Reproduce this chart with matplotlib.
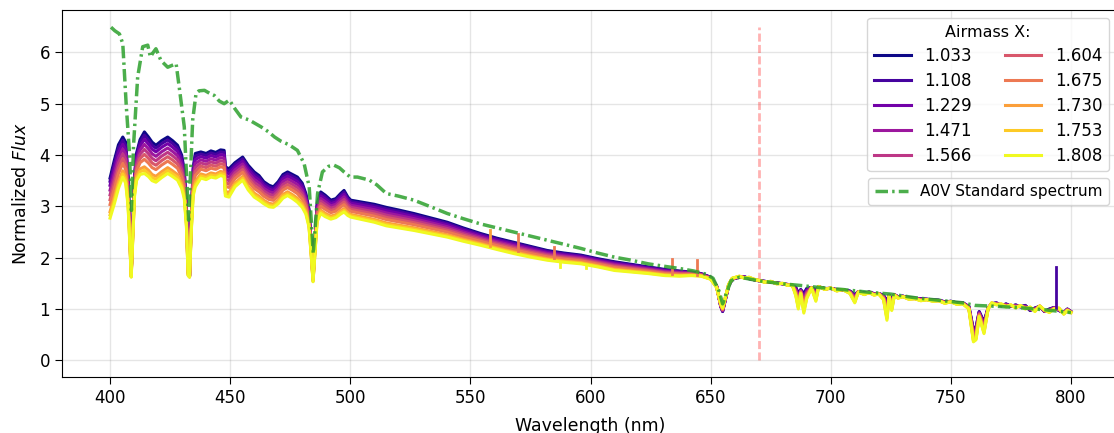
import numpy as np
import matplotlib
matplotlib.use("Agg")
import matplotlib.pyplot as plt

# ---------------- data ----------------
airmass = [1.033, 1.108, 1.229, 1.471, 1.566, 1.604, 1.675, 1.730, 1.753, 1.808]
# relative position of each airmass spectrum between the X=1.033 and X=1.808 spectra
stack_pos = [0.0, 0.08, 0.18, 0.30, 0.42, 0.54, 0.66, 0.84, 0.92, 1.0]

wl = [400, 401.8, 403.5, 405.3, 406.5, 407.5, 408.3, 408.8, 409.4, 410.2, 411.0, 412.5,
      414.3, 416.0, 417.5, 419.1, 421.5, 424.0, 426.0, 428.1, 429.8, 430.9, 431.8, 432.5,
      433.1, 433.8, 434.6, 435.5, 437.8, 440, 442, 444, 446, 447.5, 448.0, 449.5, 452,
      455.2, 457.5, 460, 462, 464, 466.2, 468, 470, 472, 473.9, 476, 478, 480, 481.5,
      482.8, 483.8, 484.5, 485.2, 486.2, 487.7, 489.5, 491.9, 494, 496, 497.4, 499, 500.2,
      505, 510, 515, 520, 526.5, 533, 540.4, 547, 554.3, 561, 568, 575, 582, 589, 596,
      603, 610, 617, 624, 631, 637, 642, 646, 650, 652.5, 654.2, 655.0, 656.0, 657.5, 659,
      662, 664, 666, 668, 670, 672.5, 675, 677.5, 680, 682, 684, 685.5, 686.5, 687.5,
      688.8, 690, 692, 693.8, 695, 697.5, 700, 702.5, 705, 708, 710, 711.5, 714, 716,
      718, 720, 722, 723.4, 724.3, 725.4, 726.5, 728, 730, 732.5, 735, 737.5, 740, 742.5,
      745, 747.5, 750, 752.5, 755, 757.5, 759.4, 760.5, 761.8, 763.8, 765.5, 767, 769,
      771, 773, 775, 777, 779, 781, 783, 785, 787, 789, 791, 793, 795, 797, 798.5, 800]

flux_x1033 = [3.55, 3.90, 4.20, 4.35, 4.25, 3.60, 2.50, 1.70, 2.50, 3.60, 4.03, 4.30,
              4.45, 4.35, 4.25, 4.19, 4.28, 4.35, 4.28, 4.19, 4.00, 3.70, 3.00, 1.75,
              1.65, 2.80, 3.75, 4.03, 4.06, 4.03, 4.08, 4.05, 4.10, 4.09, 3.77, 3.73, 3.85,
              3.96, 3.80, 3.67, 3.60, 3.48, 3.41, 3.38, 3.48, 3.62, 3.67, 3.62, 3.57, 3.45, 3.25,
              2.95, 2.20, 1.62, 2.20, 3.05, 3.28, 3.22, 3.12, 3.15, 3.25, 3.31, 3.18, 3.12,
              3.08, 3.04, 2.98, 2.93, 2.86, 2.78, 2.69, 2.58, 2.47, 2.38, 2.30, 2.22, 2.14, 2.09, 2.05,
              1.98, 1.92, 1.87, 1.82, 1.77, 1.74, 1.72, 1.69, 1.62, 1.45, 1.05, 0.95, 1.15, 1.45, 1.58,
              1.62, 1.63, 1.59, 1.57, 1.55, 1.54, 1.52, 1.51, 1.49, 1.48, 1.46, 1.42, 1.30, 1.38,
              1.30, 1.40, 1.42, 1.38, 1.43, 1.40, 1.40, 1.38, 1.37, 1.35, 1.28, 1.34, 1.31, 1.33,
              1.30, 1.30, 1.27, 1.15, 1.27, 1.18, 1.28, 1.24, 1.25, 1.22, 1.21, 1.20, 1.19, 1.18,
              1.17, 1.14, 1.15, 1.12, 1.12, 1.05, 0.60, 0.65, 0.95, 0.75, 1.02, 1.10, 1.12,
              1.06, 1.10, 1.05, 1.08, 1.04, 1.07, 0.97, 1.02, 1.05, 0.95, 1.00, 1.03, 0.97, 0.93, 1.00, 0.95]

flux_x1808 = [2.77, 3.05, 3.35, 3.57, 3.45, 3.00, 2.20, 1.62, 2.30, 3.20, 3.50, 3.62,
              3.64, 3.58, 3.50, 3.47, 3.56, 3.64, 3.58, 3.51, 3.35, 3.15, 2.60, 1.65,
              1.62, 2.50, 3.20, 3.38, 3.55, 3.52, 3.57, 3.55, 3.60, 3.58, 3.20, 3.18, 3.38,
              3.51, 3.32, 3.18, 3.12, 3.05, 2.99, 2.98, 3.05, 3.16, 3.21, 3.15, 3.08, 2.98, 2.85,
              2.60, 2.00, 1.53, 2.00, 2.70, 2.86, 2.80, 2.75, 2.78, 2.85, 2.89, 2.82, 2.79,
              2.74, 2.69, 2.62, 2.58, 2.53, 2.47, 2.40, 2.32, 2.24, 2.16, 2.08, 2.01, 1.95, 1.91, 1.88,
              1.82, 1.75, 1.72, 1.69, 1.65, 1.64, 1.65, 1.64, 1.58, 1.42, 1.10, 1.02, 1.20, 1.48, 1.60,
              1.64, 1.60, 1.62, 1.58, 1.56, 1.52, 1.54, 1.49, 1.50, 1.46, 1.47, 1.25, 1.00, 1.30,
              0.92, 1.20, 1.41, 1.15, 1.44, 1.38, 1.41, 1.35, 1.38, 1.30, 1.12, 1.33, 1.28, 1.32,
              1.27, 1.29, 1.18, 0.78, 1.25, 0.97, 1.27, 1.21, 1.24, 1.19, 1.20, 1.16, 1.18, 1.15,
              1.16, 1.11, 1.14, 1.09, 1.10, 1.00, 0.36, 0.40, 0.85, 0.52, 1.00, 1.12, 1.08,
              1.10, 1.04, 1.08, 1.02, 1.07, 1.00, 1.04, 0.95, 1.06, 0.98, 0.93, 1.00, 1.02, 0.90, 0.97, 0.93]

# isolated single-pixel features: (series index, wavelength, flux reached)
spike_series = [7, 6, 6, 9, 9, 6, 6, 1]
spike_wl = [558.0, 569.8, 584.8, 587.5, 598.3, 634.0, 644.3, 793.6]
spike_flux = [2.53, 2.47, 2.20, 1.82, 1.79, 1.98, 1.96, 1.82]

a0v_wl = [400.4, 402, 403.9, 405.3, 406.7, 408.1, 408.9, 409.8, 411.5, 413.6, 415.7, 416.8,
          418, 419.1, 421.2, 424, 426, 427.5, 428.8, 430.9, 432.7, 434.4, 435.8, 437, 439.3,
          441.5, 443.4, 445.5, 447.5, 449.7, 452, 454.5, 458, 462.8, 466, 468.5, 471.1, 474.5,
          478, 480.8, 482.9, 484.6, 486.4, 488.4, 491, 493.3, 495.5, 497.4, 500, 503, 508,
          511, 515, 520, 526.5, 533, 540.4, 547, 554, 561, 568, 575, 582, 589, 596, 603, 610,
          617, 624, 631, 637, 643, 648, 651, 653.5, 655, 656.5, 658.5, 662, 670, 680, 687,
          695, 705, 715, 725, 735, 745, 755, 760, 770, 780, 790, 800]
a0v_flux = [6.49, 6.42, 6.36, 6.17, 5.00, 4.03, 2.92, 4.20, 5.52, 6.11, 6.14, 5.91,
            6.00, 6.07, 5.84, 5.71, 5.75, 5.78, 5.32, 4.55, 2.73, 4.68, 5.20, 5.25, 5.26,
            5.20, 5.16, 5.05, 5.00, 5.07, 4.90, 4.74, 4.68, 4.55, 4.45, 4.35, 4.27, 4.20,
            4.09, 3.83, 3.38, 2.08, 3.25, 3.67, 3.78, 3.80, 3.75, 3.67, 3.57, 3.57, 3.51,
            3.42, 3.25, 3.20, 3.12, 3.00, 2.86, 2.76, 2.66, 2.58, 2.50, 2.42, 2.34, 2.26, 2.18, 2.09, 2.01,
            1.95, 1.88, 1.83, 1.79, 1.74, 1.68, 1.60, 1.35, 1.10, 1.30, 1.55, 1.62, 1.55, 1.49, 1.46,
            1.42, 1.38, 1.33, 1.29, 1.22, 1.17, 1.12, 1.07, 1.05, 1.02, 0.98, 0.93]

marker_wl = 670
marker_range = [0, 6.5]

# ---------------- plot ----------------
fig = plt.figure(figsize=(11.14, 4.33), dpi=100)
ax = fig.add_axes([62 / 1114, 56 / 433, 1057 / 1114, 367 / 433])

wl_a = np.array(wl)
top = np.array(flux_x1033)
bot = np.array(flux_x1808)
colors = plt.cm.plasma(np.linspace(0, 1, len(airmass)))

series = []
for i, (X, p) in enumerate(zip(airmass, stack_pos)):
    f = top + p * (bot - top)
    series.append(f)
    ax.plot(wl_a, f, color=colors[i], lw=2.2, label=f"{X:.3f}", zorder=2)

for s, w, v in zip(spike_series, spike_wl, spike_flux):
    base = np.interp(w, wl_a, series[s])
    ax.plot([w, w], [base, v], color=colors[s], lw=2, zorder=2)

ax.vlines(marker_wl, marker_range[0], marker_range[1], colors="red",
          linestyles=(0, (2.9, 1.2)), lw=2, alpha=0.3, zorder=1)

std_line, = ax.plot(a0v_wl, a0v_flux, color="#2ca02c", alpha=0.85, lw=2.5,
                    dashes=(3.6, 1.2, 0.7, 1.2), zorder=3, label="A0V Standard spectrum")

ax.set_xlim(380, 820)
ax.set_ylim(-0.325, 6.825)
ax.set_xticks(np.arange(400, 801, 50))
ax.set_yticks(np.arange(0, 7, 1))
ax.tick_params(labelsize=12, length=5)
ax.grid(True, color="gray", alpha=0.2, lw=1)
ax.set_axisbelow(True)
ax.set_xlabel("Wavelength (nm)", fontsize=12.5, labelpad=7)
ax.set_ylabel(r"Normalized $\it{Flux}$", fontsize=12.5, labelpad=7)

handles, labels = ax.get_legend_handles_labels()
h_air = handles[:len(airmass)]
l_air = labels[:len(airmass)]
leg1 = ax.legend(h_air, l_air, title="Airmass X:", ncol=2, loc="upper right",
                 fontsize=12, title_fontsize=11.5, columnspacing=2.0, handlelength=2.2,
                 labelspacing=0.42, bbox_to_anchor=(0.9905, 0.978), borderaxespad=0)
ax.add_artist(leg1)
ax.legend([std_line], ["A0V Standard spectrum"], loc="upper right", handlelength=2.2,
          bbox_to_anchor=(0.9905, 0.542), borderaxespad=0, fontsize=11.0)

fig.savefig("out.png", dpi=100)
